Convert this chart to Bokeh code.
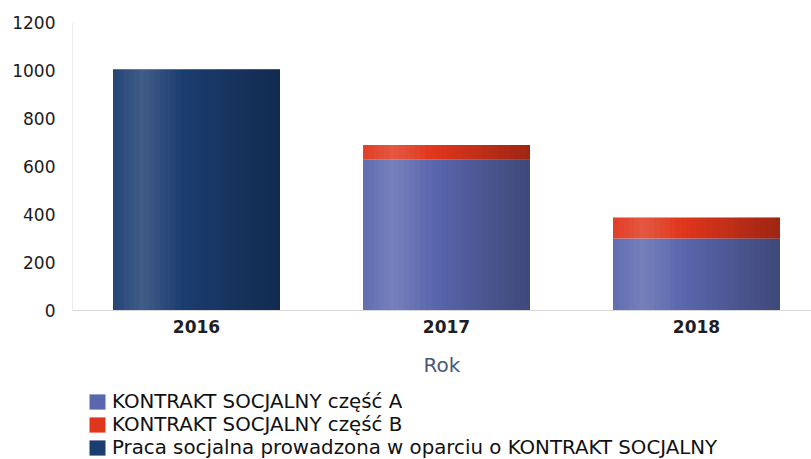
from bokeh.plotting import figure
from bokeh.models import Range1d, FixedTicker, Legend, LegendItem, ColumnDataSource
from bokeh.layouts import column
from bokeh.transform import dodge
from bokeh.embed import file_html
from bokeh.resources import INLINE

years = ["2016", "2017", "2018"]
part_a = [0, 630, 300]
part_b = [0, 60, 87]
praca = [1005, 0, 0]
y_ticks = [0, 200, 400, 600, 800, 1000, 1200]
labels = ["KONTRAKT SOCJALNY część A", "KONTRAKT SOCJALNY część B",
          "Praca socjalna prowadzona w oparciu o KONTRAKT SOCJALNY"]
colors = ["#5a67ad", "#e0361c", "#1b3d70"]

x = list(range(len(years)))
b_top = [a + b for a, b in zip(part_a, part_b)]
total = [t + pr for t, pr in zip(b_top, praca)]

src = ColumnDataSource(dict(x=x, a_top=part_a, b_bottom=part_a, b_top=b_top,
                            praca=praca, total=total))

FONT = "DejaVu Sans"
p = figure(width=811, height=390, output_backend="svg", toolbar_location=None,
           x_range=Range1d(-0.496, 2.46), y_range=Range1d(0, 1200),
           min_border_left=72, min_border_right=0, min_border_top=22, min_border_bottom=80)
p.outline_line_color = None
p.background_fill_color = "white"
p.border_fill_color = "white"

W = 0.668
p.vbar(x="x", top="a_top", bottom=0, width=W, source=src, fill_color=colors[0], line_color=None)
p.vbar(x="x", top="b_top", bottom="b_bottom", width=W, source=src, fill_color=colors[1], line_color=None)
p.vbar(x="x", top="praca", bottom=0, width=W, source=src, fill_color=colors[2], line_color=None)

# cylinder-like shading strips over each bar
N = 32
for k in range(N):
    t = (k + 0.5) / N
    off = -W / 2 + t * W
    if t < 0.42:
        peak = 1 - abs(t - 0.18) / 0.24
        col, alpha = "white", max(0.0, 0.17 * peak)
    else:
        col, alpha = "black", 0.30 * (t - 0.42) / 0.58
    if alpha <= 0.004:
        continue
    p.vbar(x=dodge("x", off, range=p.x_range), top="total", bottom=0, width=W / N,
           source=src, fill_color=col, fill_alpha=alpha, line_color=None)

p.xgrid.grid_line_color = None
p.ygrid.grid_line_color = None

xa = p.xaxis[0]
xa.ticker = FixedTicker(ticks=x)
xa.major_label_overrides = {i: y for i, y in zip(x, years)}
xa.major_tick_line_color = None
xa.minor_tick_line_color = None
xa.axis_line_color = "#d8d8d8"
xa.major_label_text_font = FONT
xa.major_label_text_font_size = "17px"
xa.major_label_text_font_style = "bold"
xa.major_label_text_color = "#1e1e28"
xa.major_label_standoff = 3
xa.axis_label = "Rok"
xa.axis_label_text_font = FONT
xa.axis_label_text_font_size = "20px"
xa.axis_label_text_font_style = "normal"
xa.axis_label_text_color = "#4a5878"
xa.axis_label_standoff = 17

ya = p.yaxis[0]
ya.ticker = FixedTicker(ticks=y_ticks)
ya.major_tick_line_color = None
ya.minor_tick_line_color = None
ya.axis_line_color = "#ececec"
ya.major_label_text_font = FONT
ya.major_label_text_font_size = "17px"
ya.major_label_text_color = "#1a1a22"
ya.major_label_standoff = 11

# legend panel below the chart (frame aligned with the chart's frame)
lg = figure(width=811, height=69, output_backend="svg", toolbar_location=None,
            x_range=Range1d(0, 1), y_range=Range1d(0, 1),
            x_axis_type=None, y_axis_type=None,
            min_border_left=0, min_border_right=0, min_border_top=0, min_border_bottom=0)
lg.outline_line_color = None
lg.xgrid.grid_line_color = None
lg.ygrid.grid_line_color = None
items = []
for lab, c, col in zip(labels, colors, ["a_top", "b_top", "praca"]):
    r = lg.vbar(x="x", top=col, width=0.1, source=src, fill_color=c, line_color=None, visible=False)
    items.append(LegendItem(label=lab, renderers=[r]))

legend = Legend(items=items, location=(15, 0), orientation="vertical",
                label_text_font=FONT, label_text_font_size="19.8px", label_text_color="#111111",
                glyph_width=20, glyph_height=19, label_height=23, spacing=0,
                label_standoff=5, padding=0, margin=0, border_line_color=None,
                background_fill_alpha=0, inactive_fill_alpha=0)
lg.add_layout(legend, "center")

layout = column(p, lg, spacing=0)
open("out.html", "w").write(file_html(layout, INLINE))
